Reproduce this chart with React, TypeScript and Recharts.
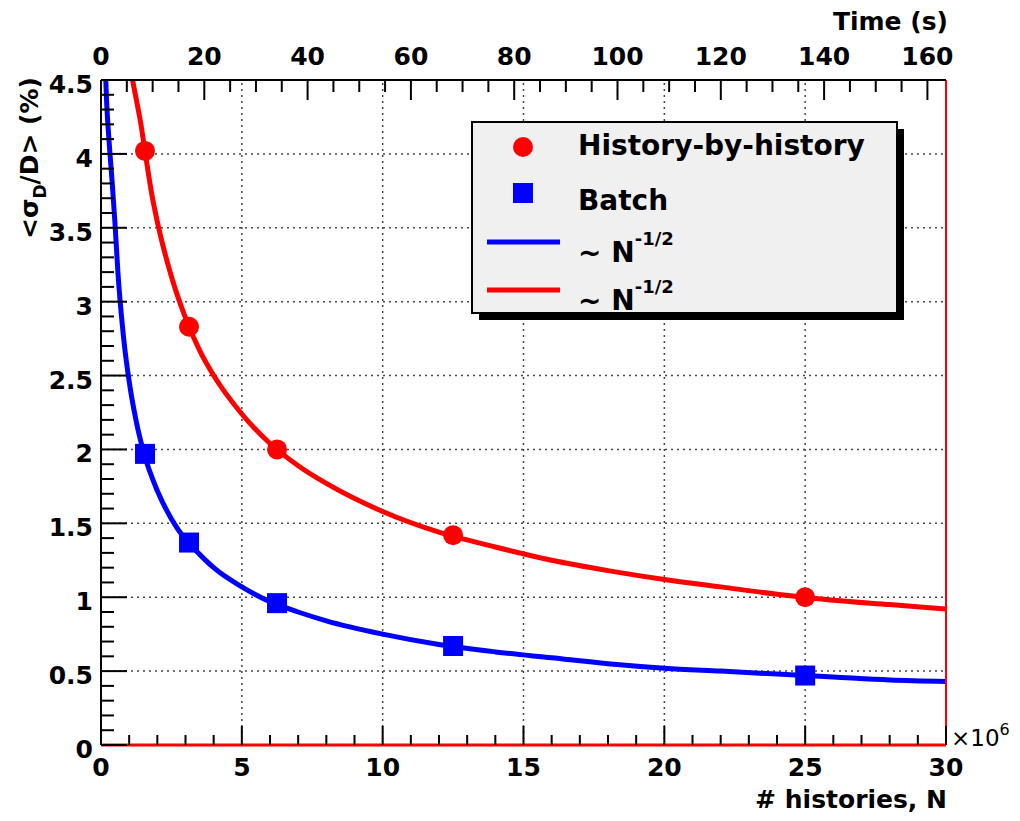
import { ComposedChart, Line, Scatter, XAxis, YAxis, ReferenceLine } from "recharts";

// measured points, N in units of 1e6
const pointN = [1.5625, 3.125, 6.25, 12.5, 25];
const hbhSigma = [4.02, 2.83, 2.0, 1.42, 1.0];
const batchSigma = [1.97, 1.37, 0.96, 0.67, 0.47];

// fitted ~N^-1/2 curves
const redFitN = [1.0, 1.2, 1.4, 1.6, 1.8, 2, 2.5, 3, 3.5, 4, 5, 6, 7, 8, 10, 12, 14, 16, 18, 20, 22, 24, 26, 28, 30];
const redFitSigma = [4.62, 4.42, 4.22, 3.97, 3.73, 3.54, 3.17, 2.89, 2.67, 2.5, 2.24, 2.04, 1.89, 1.77, 1.58, 1.44, 1.34, 1.25, 1.18, 1.12, 1.07, 1.02, 0.98, 0.95, 0.92];
const blueFitN = [0.12, 0.2, 0.3, 0.4, 0.5, 0.6, 0.8, 1, 1.25, 1.5, 2, 2.5, 3, 3.5, 4, 5, 6, 7, 8, 10, 12, 14, 16, 18, 20, 22, 24, 26, 28, 30];
const blueFitSigma = [4.75, 4.35, 4.05, 3.8, 3.52, 3.2, 2.76, 2.46, 2.19, 1.99, 1.72, 1.53, 1.39, 1.29, 1.2, 1.07, 0.97, 0.9, 0.84, 0.75, 0.68, 0.63, 0.59, 0.55, 0.52, 0.5, 0.48, 0.46, 0.44, 0.43];

const xMajor = [0, 5, 10, 15, 20, 25, 30];
const yMajor = [0, 0.5, 1, 1.5, 2, 2.5, 3, 3.5, 4, 4.5];
const timeMajor = [0, 20, 40, 60, 80, 100, 120, 140, 160];
const xGrid = [5, 10, 15, 20, 25];
const yGrid = [0.5, 1, 1.5, 2, 2.5, 3, 3.5, 4];

const xTicks = Array.from({ length: 31 }, (_, i) => i);
const yTicks = Array.from({ length: 46 }, (_, i) => Number((i * 0.1).toFixed(1)));
const timeTicks = Array.from({ length: 33 }, (_, i) => i * 5);

const hbhData = pointN.map((n, i) => ({ x: n, y: hbhSigma[i] }));
const batchData = pointN.map((n, i) => ({ x: n, y: batchSigma[i] }));
const redFit = redFitN.map((n, i) => ({ x: n, y: redFitSigma[i] }));
const blueFit = blueFitN.map((n, i) => ({ x: n, y: blueFitSigma[i] }));
// empty series so the time axis gets drawn
const timeAnchor = timeMajor.map((t) => ({ t, y: null }));

const FONT = "'DejaVu Sans', sans-serif";

function BottomTick({ x, y, payload }: any) {
  const major = xMajor.includes(payload.value);
  return (
    <g>
      <line x1={x} x2={x} y1={y} y2={y - (major ? 19 : 10)} stroke="#000" strokeWidth={2} />
      {major && (
        <text x={x} y={y + 31} textAnchor="middle" fontFamily={FONT} fontWeight="bold" fontSize={25} fill="#000">
          {payload.value}
        </text>
      )}
    </g>
  );
}

function TopTick({ x, y, payload }: any) {
  const major = timeMajor.includes(payload.value);
  return (
    <g>
      <line x1={x} x2={x} y1={y} y2={y + (major ? 20 : 12)} stroke="#000" strokeWidth={2} />
      {major && (
        <text x={x} y={y - 15} textAnchor="middle" fontFamily={FONT} fontWeight="bold" fontSize={25} fill="#000">
          {payload.value}
        </text>
      )}
    </g>
  );
}

function LeftTick({ x, y, payload }: any) {
  const major = yMajor.includes(payload.value);
  return (
    <g>
      <line x1={x} x2={x + (major ? 26 : 13)} y1={y} y2={y} stroke="#000" strokeWidth={2} />
      {major && (
        <text x={x - 8} y={y + 13} textAnchor="end" fontFamily={FONT} fontWeight="bold" fontSize={25} fill="#000">
          {payload.value}
        </text>
      )}
    </g>
  );
}

const circleShape = ({ cx, cy }: any) => <circle cx={cx} cy={cy} r={10} fill="#ff0000" />;
const squareShape = ({ cx, cy }: any) => <rect x={cx - 10} y={cy - 10} width={20} height={20} fill="#0000ff" />;

function Overlay() {
  return (
    <svg width={1004} height={805} style={{ position: "absolute", left: 0, top: 0, pointerEvents: "none" }}>
      <g fontFamily={FONT} fontWeight="bold" fill="#000">
        <text x={940} y={22} textAnchor="end" fontSize={25}>Time (s)</text>
        <text x={939} y={800} textAnchor="end" fontSize={25}># histories, N</text>
        <text transform="translate(30,150) rotate(-90)" textAnchor="middle" fontSize={25}>
          {"<σ"}
          <tspan fontSize={17} dy={8}>D</tspan>
          <tspan dy={-8}>{"/D> (%)"}</tspan>
        </text>
      </g>
      <text x={943} y={738} fontFamily={FONT} fontSize={23} fill="#000">
        ×10
        <tspan fontSize={16} dy={-11}>6</tspan>
      </text>

      {/* legend */}
      <rect x={471} y={121} width={425} height={191} fill="#000" />
      <rect x={464} y={114} width={425} height={191} fill="#f0f0f0" stroke="#000" strokeWidth={2} />
      <circle cx={515} cy={139} r={10} fill="#ff0000" />
      <rect x={505} y={175} width={20} height={20} fill="#0000ff" />
      <line x1={479} x2={552} y1={234} y2={234} stroke="#0000ff" strokeWidth={5} />
      <line x1={479} x2={552} y1={282} y2={282} stroke="#ff0000" strokeWidth={5} />
      <g fontFamily={FONT} fontWeight="bold" fill="#000" fontSize={28}>
        <text x={570} y={147}>History-by-history</text>
        <text x={570} y={202}>Batch</text>
        <text x={570} y={254}>
          ~ N<tspan fontSize={18} dy={-17}>-1/2</tspan>
        </text>
        <text x={570} y={302}>
          ~ N<tspan fontSize={18} dy={-17}>-1/2</tspan>
        </text>
      </g>
    </svg>
  );
}

export default function App() {
  return (
    <div style={{ position: "relative", width: 1004, height: 805, background: "#fff" }}>
      <ComposedChart width={1004} height={805} margin={{ top: 32, right: 66, bottom: 28, left: 33 }}>
        <XAxis
          dataKey="x"
          type="number"
          domain={[0, 30]}
          ticks={xTicks}
          interval={0}
          allowDataOverflow
          height={40}
          tickSize={0}
          tickMargin={0}
          tickLine={false}
          tick={<BottomTick />}
          axisLine={{ stroke: "#ff0000", strokeWidth: 3 }}
        />
        <XAxis
          xAxisId="top"
          dataKey="t"
          orientation="top"
          type="number"
          domain={[0, 163.6]}
          ticks={timeTicks}
          interval={0}
          allowDataOverflow
          height={40}
          tickSize={0}
          tickMargin={0}
          tickLine={false}
          tick={<TopTick />}
          axisLine={{ stroke: "#000", strokeWidth: 2 }}
        />
        <YAxis
          type="number"
          domain={[0, 4.5]}
          ticks={yTicks}
          interval={0}
          allowDataOverflow
          width={60}
          tickSize={0}
          tickMargin={0}
          tickLine={false}
          tick={<LeftTick />}
          axisLine={{ stroke: "#000", strokeWidth: 2 }}
        />
        {xGrid.map((v) => (
          <ReferenceLine key={`gx${v}`} x={v} stroke="#444" strokeWidth={1.5} strokeDasharray="2 4" />
        ))}
        {yGrid.map((v) => (
          <ReferenceLine key={`gy${v}`} y={v} stroke="#444" strokeWidth={1.5} strokeDasharray="2 4" />
        ))}
        <Line xAxisId="top" data={timeAnchor} dataKey="y" stroke="none" dot={false} isAnimationActive={false} />
        <Line data={blueFit} dataKey="y" type="monotone" stroke="#0000ff" strokeWidth={5} dot={false} isAnimationActive={false} />
        <Line data={redFit} dataKey="y" type="monotone" stroke="#ff0000" strokeWidth={5} dot={false} isAnimationActive={false} />
        <Scatter data={batchData} dataKey="y" shape={squareShape} isAnimationActive={false} />
        <Scatter data={hbhData} dataKey="y" shape={circleShape} isAnimationActive={false} />
        <ReferenceLine x={30} stroke="#ff0000" strokeWidth={2} />
      </ComposedChart>
      <Overlay />
    </div>
  );
}
